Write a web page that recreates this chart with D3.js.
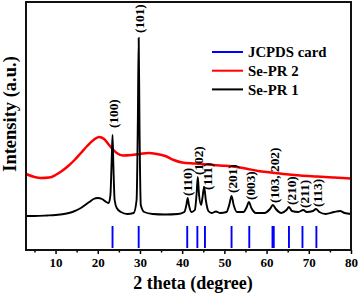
<!DOCTYPE html>
<html><head><meta charset="utf-8">
<script src="https://cdn.jsdelivr.net/npm/d3@7"></script>
<style>body{margin:0;background:#fff;}svg{display:block;}</style>
</head><body>
<svg id="c" width="360" height="295"></svg>
<script>
// 2theta (degree) and intensity (a.u.)
const blackTheta = [3,5,8,10,12,14,16,18,19,20,21,22,22.6,23.0,23.3,23.5,23.7,24.0,24.5,25.5,27,28.5,29.2,29.5,29.7,29.9,30.2,31,33,36,39,40.5,41.0,41.3,41.6,42.2,43.0,43.4,43.7,44.0,44.5,44.8,45.2,45.6,46.2,47,48,49,50.5,51.2,51.7,52.2,53,54.5,55.3,55.8,56.4,57.5,59.5,60.8,61.5,62.2,63.5,64.7,65.3,66,67.5,68.7,69.5,71,71.7,72.5,74,76,77.4,78.5,80];
const blackInt   = [34,34,34.5,35,36,38,42,48,51,52,51,48,47,55,90,115,85,50,42,38,36,37,50,130,212,120,45,38,36,35.5,36,38,45,52,45,38,40,55,73,55,45,52,63,50,39,37,38.5,37,38,46,54,45,38,38,43,48,42,37,37,41,45,41,37,40,43,39,38,40,38,39,41,38,36,38,39,37,36];
const redTheta = [3,5,6.5,8.5,10,11.5,13,14.5,16,17.5,19,20.3,21.5,22.5,23.5,24.5,26,28,30,32,34,36,38,40,43,46,49,52,55,58,61,64,68,72,76,80];
const redInt   = [76,73,72,72.5,75,79,84,90,97,104,110,113,111,106,101,97,94.5,95,96,97,96,94,90,87.5,86.5,85.5,84.5,83.5,81.5,79,77.5,76,74.5,73.5,72.5,71.5];
const jcpdsTheta = [23.5,29.7,41.2,43.6,45.4,51.7,55.9,61.4,61.7,65.3,68.5,71.8];
const jcpdsInt   = [22,22,22,22,22,22,22,22,22,22,22,22];
const jcpdsBase = 2;
const peakLabels = ["(100)","(101)","(110)","(102)","(111)","(201)","(003)","(103, 202)","(210)","(211)","(113)"];
const peakLabelTheta = [23.6,29.8,41.2,43.8,45.9,51.8,56.1,61.8,65.8,68.9,72.0];
const peakLabelInt   = [122,217,54,75,60,57,50,47,45,42,43];
const legendNames = ["JCPDS card","Se-PR 2","Se-PR 1"];
const legendColors = ["#0000ff","#ff0000","#000000"];
const xTicks = [10,20,30,40,50,60,70,80];
const xMinor = [5,15,25,35,45,55,65,75];

const svg = d3.select("#c");
const L=26, R=351, T=2, B=250;
const x = d3.scaleLinear().domain([3,80]).range([L,R]);
const y = d3.scaleLinear().domain([0,248]).range([B,T]);
const font = "'Liberation Serif','Times New Roman',serif";

// data
const line = d3.line().curve(d3.curveMonotoneX).x(d=>x(d[0])).y(d=>y(d[1]));
svg.append("path").datum(redTheta.map((t,i)=>[t,redInt[i]]))
  .attr("d",line).attr("fill","none").attr("stroke","#ff0000").attr("stroke-width",2.5);
svg.append("path").datum(blackTheta.map((t,i)=>[t,blackInt[i]]))
  .attr("d",line).attr("fill","none").attr("stroke","#000").attr("stroke-width",1.9);
svg.selectAll("line.jc").data(jcpdsTheta).enter().append("line")
  .attr("x1",d=>x(d)).attr("x2",d=>x(d))
  .attr("y1",y(jcpdsBase)).attr("y2",(d,i)=>y(jcpdsBase+jcpdsInt[i]))
  .attr("stroke","#0000ff").attr("stroke-width",1.9);

// peak labels
svg.selectAll("text.pk").data(peakLabels).enter().append("text")
  .attr("transform",(d,i)=>`translate(${x(peakLabelTheta[i])},${y(peakLabelInt[i])}) rotate(-90)`)
  .attr("dy","0.35em").attr("text-anchor","start")
  .style("font-family",font).style("font-weight","bold").style("font-size","13.3px")
  .text(d=>d);

// axes
const xa = svg.append("g").attr("transform",`translate(0,${B})`)
  .call(d3.axisBottom(x).tickValues(xTicks).tickSize(4).tickFormat(d3.format("d")));
xa.select(".domain").remove();
xa.selectAll("line").attr("stroke","#000").attr("stroke-width",1.5);
xa.selectAll("text").attr("dy","0.8em").style("font-family",font).style("font-weight","bold").style("font-size","13px").attr("fill","#000");
const xm = svg.append("g").attr("transform",`translate(0,${B})`)
  .call(d3.axisBottom(x).tickValues(xMinor).tickSize(2.5).tickFormat(""));
xm.select(".domain").remove();
xm.selectAll("line").attr("stroke","#000").attr("stroke-width",1.5);

// frame
svg.append("rect").attr("x",L).attr("y",T).attr("width",R-L).attr("height",B-T)
  .attr("fill","none").attr("stroke","#111").attr("stroke-width",2);

// titles
svg.append("text").attr("x",193).attr("y",289).attr("text-anchor","middle")
  .style("font-family",font).style("font-weight","bold").style("font-size","18px")
  .text("2 theta (degree)");
svg.append("text").attr("transform","translate(16,114) rotate(-90)").attr("text-anchor","middle")
  .style("font-family",font).style("font-weight","bold").style("font-size","18.5px")
  .text("Intensity (a.u.)");

// legend
const lg = svg.append("g");
legendNames.forEach((n,i)=>{
  const yy = 52 + i*18.7;
  lg.append("line").attr("x1",212).attr("x2",243).attr("y1",yy).attr("y2",yy)
    .attr("stroke",legendColors[i]).attr("stroke-width",2);
  lg.append("text").attr("x",248).attr("y",yy).attr("dy","0.35em")
    .style("font-family",font).style("font-weight","bold").style("font-size","14.8px").text(n);
});
</script>
</body></html>
